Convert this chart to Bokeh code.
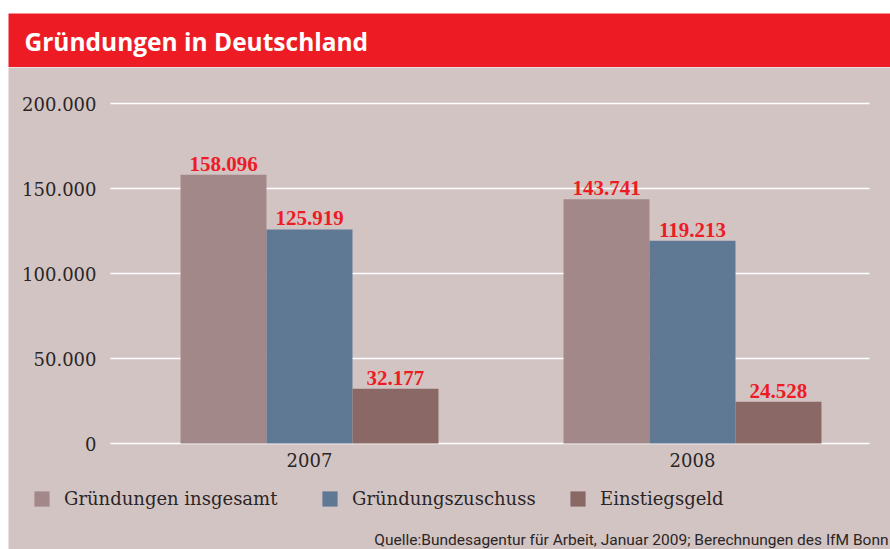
from bokeh.plotting import figure
from bokeh.models import (ColumnDataSource, Range1d, FixedTicker, Legend, LegendItem,
                          Label, LinearAxis)
from bokeh.layouts import column
from bokeh.transform import dodge
from bokeh.core.properties import value
from bokeh.embed import file_html
from bokeh.resources import INLINE

# ---- data ----
years = ["2007", "2008"]
insgesamt = [158096, 143741]
zuschuss = [125919, 119213]
einstieg = [32177, 24528]
series_names = ["Gründungen insgesamt", "Gründungszuschuss", "Einstiegsgeld"]
y_ticks = [0, 50000, 100000, 150000, 200000]
y_tick_labels = ["0", "50.000", "100.000", "150.000", "200.000"]
title_text = "Gründungen in Deutschland"
source_text = "Quelle:Bundesagentur für Arbeit, Januar 2009; Berechnungen des IfM Bonn"

# ---- styles ----
RED = "#ED1C24"
BG = "#D3C4C4"
COLORS = ["#A38889", "#5F7893", "#8A6865"]
TXT = "#2A2626"
SERIF = "DejaVu Serif"

def fmt(v):
    return "{:,}".format(v).replace(",", ".")

idx = list(range(len(years)))
src = ColumnDataSource(dict(
    x=idx,
    s0=insgesamt, s1=zuschuss, s2=einstieg,
    l0=[fmt(v) for v in insgesamt],
    l1=[fmt(v) for v in zuschuss],
    l2=[fmt(v) for v in einstieg],
))

W = 882

# ---- title band ----
t = figure(width=W, height=54, toolbar_location=None, output_backend="svg",
           x_range=Range1d(0, 1), y_range=Range1d(0, 1),
           x_axis_location=None, y_axis_location=None,
           min_border=0, min_border_left=0, min_border_right=0,
           min_border_top=0, min_border_bottom=0)
t.grid.visible = False
t.outline_line_color = None
t.background_fill_color = RED
t.border_fill_color = RED
t.add_layout(Label(x=16, y=26, x_units="screen", y_units="screen", text=title_text,
                   text_color="white", text_font="Open Sans", text_font_style="bold",
                   text_font_size="24.5px", text_baseline="alphabetic", text_align="left"))

# ---- main chart (frame fills the whole figure; axes use fixed locations) ----
H = 482
px_unit = 383.0           # pixels per category step
x_zero_px = 301.0         # where the first category sits
y_px_per = 340.0 / 200000 # pixels per value
y_zero_px = 376.0         # from top
x0 = -x_zero_px / px_unit
x1 = (W - x_zero_px) / px_unit
y0 = -(H - y_zero_px) / y_px_per
y1 = y_zero_px / y_px_per
grid_left = x0 + 102 / px_unit
grid_right = x0 + 861 / px_unit

p = figure(width=W, height=H, toolbar_location=None, output_backend="svg",
           x_range=Range1d(x0, x1), y_range=Range1d(y0, y1),
           x_axis_location=None, y_axis_location=None,
           min_border=0, min_border_left=0, min_border_right=0,
           min_border_top=0, min_border_bottom=0)
p.background_fill_color = BG
p.border_fill_color = BG
p.outline_line_color = None
p.grid.visible = False

# gridlines (white), spanning the plotting area
p.segment(x0=[grid_left] * len(y_ticks), x1=[grid_right] * len(y_ticks),
          y0=y_ticks, y1=y_ticks, line_color="white", line_width=1.6)

bw = 0.2245
offs = [-bw, 0, bw]
renderers = []
for i in range(3):
    r = p.vbar(x=dodge("x", offs[i], range=p.x_range), top="s%d" % i, width=bw,
               bottom=0, source=src, fill_color=COLORS[i], line_color=None)
    renderers.append(r)
    p.text(x=dodge("x", offs[i], range=p.x_range), y="s%d" % i, text="l%d" % i,
           source=src, text_align="center", text_baseline="bottom", y_offset=-4,
           text_color=RED, text_font=value("Liberation Serif"), text_font_style="bold",
           text_font_size="21px")

# axes
yax = LinearAxis(fixed_location=grid_left, ticker=FixedTicker(ticks=y_ticks))
yax.major_label_overrides = {t_: l for t_, l in zip(y_ticks, y_tick_labels)}
yax.axis_line_color = None
yax.major_tick_line_color = None
yax.minor_tick_line_color = None
yax.major_tick_out = 0
yax.major_label_standoff = 14
yax.major_label_text_font = SERIF
yax.major_label_text_font_size = "18px"
yax.major_label_text_color = TXT
p.add_layout(yax, "left")

xax = LinearAxis(fixed_location=0, ticker=FixedTicker(ticks=idx))
xax.major_label_overrides = {i: y for i, y in zip(idx, years)}
xax.axis_line_color = None
xax.major_tick_line_color = None
xax.minor_tick_line_color = None
xax.major_tick_out = 0
xax.major_label_standoff = 9
xax.major_label_text_font = SERIF
xax.major_label_text_font_size = "18px"
xax.major_label_text_color = TXT
p.add_layout(xax, "below")

# legends (one per item for exact placement)
leg_x = [24, 312, 560]
for i in range(3):
    lg = Legend(items=[LegendItem(label=series_names[i], renderers=[renderers[i]])],
                location=(leg_x[i], 40), orientation="horizontal",
                padding=0, margin=0, border_line_color=None,
                background_fill_alpha=0, glyph_width=19, glyph_height=19,
                label_height=19, label_standoff=13,
                label_text_font=SERIF, label_text_font_size="18px",
                label_text_color=TXT, label_text_baseline="middle")
    p.add_layout(lg, "center")

p.add_layout(Label(x=880, y=10, x_units="screen", y_units="screen", text=source_text,
                   text_align="right", text_baseline="alphabetic",
                   text_font="Roboto", text_font_size="15.5px", text_color=TXT))

layout = column(t, p, spacing=0, margin=(13, 0, 0, 8))
open("out.html", "w").write(file_html(layout, INLINE))
